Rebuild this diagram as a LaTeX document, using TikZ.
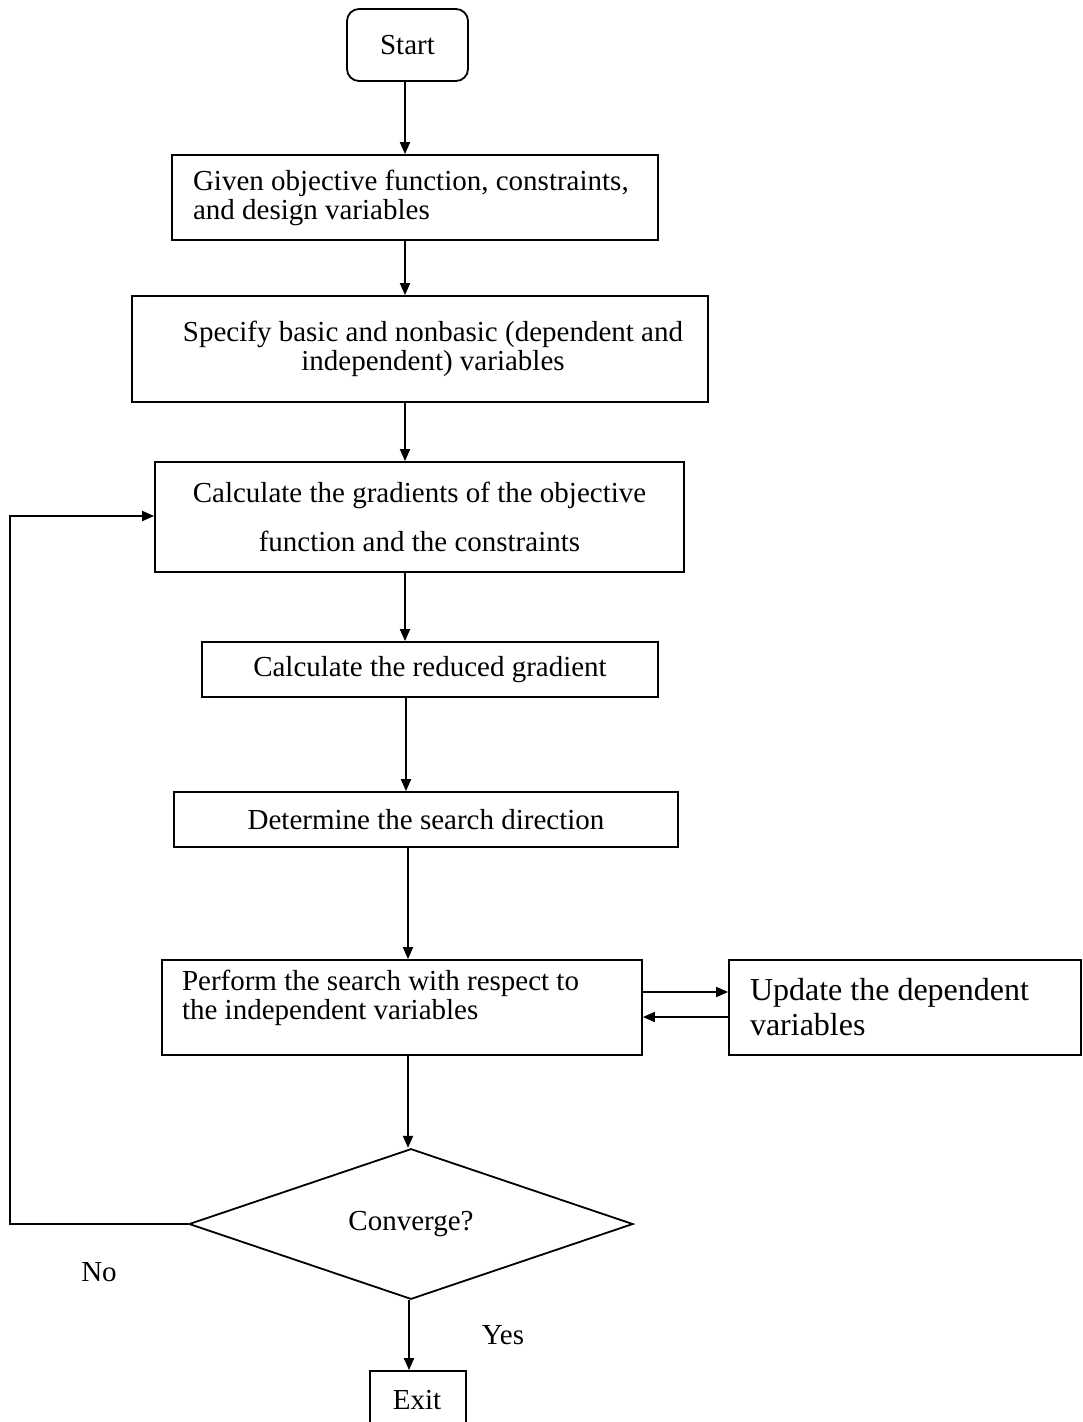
\documentclass[tikz,border=0pt]{standalone}
\usepackage{fontspec}
\setmainfont{Liberation Serif}
\usetikzlibrary{shapes.geometric,arrows.meta}
\begin{document}
\begin{tikzpicture}[x=1pt,y=-1pt,
  every node/.style={font=\fontsize{29}{29}\selectfont},
  box/.style={draw,line width=1.8pt,rectangle,inner sep=0pt},
  arr/.style={line width=1.8pt,-{Triangle[length=12pt,width=10pt]}},
  ln/.style={line width=1.8pt}]
\useasboundingbox (0,0) rectangle (1083,1422);
\node[box,rounded corners=12pt,minimum width=121pt,minimum height=72pt] (start) at (407.5,45) {Start};
\node[box,minimum width=486pt,minimum height=85pt,text width=444pt,align=flush left] (b1) at (415,197.5)
  {Given objective function, constraints,\\and design variables};
\node[box,minimum width=576pt,minimum height=106pt,text width=550pt,align=flush center] (b2) at (420,349)
  {\hspace*{26pt}Specify basic and nonbasic (dependent and\\\hspace*{26pt}independent) variables};
\node[box,minimum width=529pt,minimum height=110pt,align=flush center,font=\fontsize{29}{49}\selectfont] (b3) at (419.5,517)
  {Calculate the gradients of the objective\\function and the constraints};
\node[box,minimum width=456pt,minimum height=55pt] (b4) at (430,669.5) {Calculate the reduced gradient};
\node[box,minimum width=504pt,minimum height=55pt] (b5) at (426,819.5) {Determine the search direction};
\node[box,minimum width=480pt,minimum height=95pt,text width=440pt,align=flush left] (b6) at (402,1007.5)
  {Perform the search with respect to\\the independent variables\\[-13pt]\strut};
\node[box,minimum width=352pt,minimum height=95pt,text width=310pt,align=flush left,font=\fontsize{32}{35}\selectfont] (b7) at (905,1007.5)
  {Update the dependent\\variables};
\node[draw,diamond,line width=1.8pt,inner sep=0pt,minimum width=444pt,minimum height=118pt] (dia) at (411,1224) {Converge?};
\node[box,minimum width=96pt,minimum height=69pt] (exit) at (418,1405.5) {};
\node (exittxt) at (417,1400) {Exit};
\node (no) at (99,1272) {No};
\node (yes) at (503,1335) {Yes};

\coordinate (s1) at (405,0);
\coordinate (s2) at (406,0);
\coordinate (s3) at (408,0);
\coordinate (s4) at (409,0);
\draw[arr] (start.south -| s1) -- (s1 |- b1.north);
\draw[arr] (s1 |- b1.south) -- (s1 |- b2.north);
\draw[arr] (s1 |- b2.south) -- (s1 |- b3.north);
\draw[arr] (s1 |- b3.south) -- (s1 |- b4.north);
\draw[arr] (s2 |- b4.south) -- (s2 |- b5.north);
\draw[arr] (s3 |- b5.south) -- (s3 |- b6.north);
\draw[arr] (s3 |- b6.south) -- (s3 |- dia.north);
\draw[arr] (s4 |- dia.south) -- (s4 |- exit.north);

\coordinate (r1) at (0,992);
\coordinate (r2) at (0,1017);
\draw[arr] (b6.east |- r1) -- (b7.west |- r1);
\draw[arr] (b7.west |- r2) -- (b6.east |- r2);

\coordinate (lx) at (10,516);
\draw[arr] (dia.west) -- (lx |- dia.west) -- (lx) -- (lx -| b3.west);
\end{tikzpicture}
\end{document}
